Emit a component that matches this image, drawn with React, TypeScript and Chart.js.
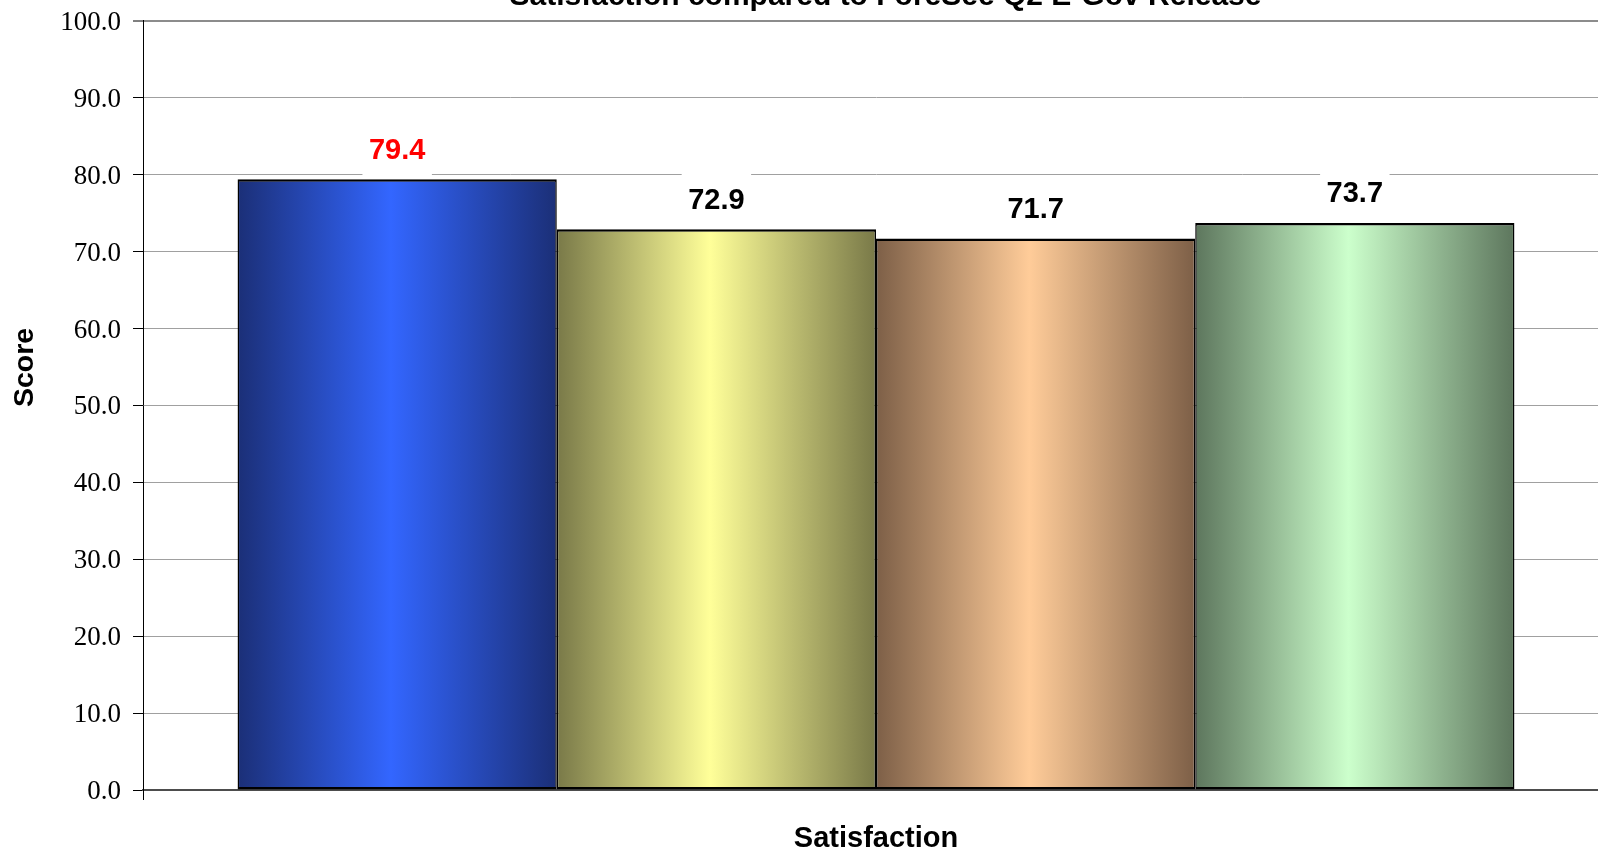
import React, { useEffect, useRef } from "react";
import { Chart, registerables } from "chart.js";

Chart.register(...registerables);

// ---- Data ----
const categories = ["Satisfaction"];
const seriesNames = ["Series 1", "Series 2", "Series 3", "Series 4"];
const seriesValues = [79.4, 72.9, 71.7, 73.7];
const lightColors = ["#3366ff", "#ffff99", "#ffcc99", "#ccffcc"];
const darkColors = ["#1b2f77", "#797948", "#7d5f47", "#5d765d"];
const labelColors = ["#ff0000", "#000000", "#000000", "#000000"];
const yMin = 0;
const yMax = 100;
const yStep = 10;
const chartTitle = "Satisfaction compared to ForeSee Q2 E-Gov Release";
const yAxisTitle = "Score";

const CAT_PCT = 0.871;
const SANS = "Arial, 'Liberation Sans', sans-serif";
const SERIF = "'Times New Roman', 'Liberation Serif', serif";

function barGradient(ctx: any) {
  const i = ctx.datasetIndex ?? 0;
  const chart = ctx.chart;
  const xs = chart.scales && chart.scales.x;
  if (ctx.dataIndex === undefined || !xs || !chart.chartArea) return lightColors[i];
  const n = chart.data.datasets.length;
  const nCat = chart.data.labels.length;
  const center = xs.getPixelForValue(ctx.dataIndex);
  const group = (xs.width / nCat) * CAT_PCT;
  const bw = group / n;
  const left = center - group / 2 + i * bw;
  const g = chart.ctx.createLinearGradient(left, 0, left + bw, 0);
  g.addColorStop(0, darkColors[i]);
  g.addColorStop(0.48, lightColors[i]);
  g.addColorStop(1, darkColors[i]);
  return g;
}

const valueLabelPlugin = {
  id: "valueLabels",
  afterDatasetsDraw(chart: any) {
    const c = chart.ctx;
    c.save();
    c.font = `bold 29px ${SANS}`;
    c.textAlign = "center";
    c.textBaseline = "alphabetic";
    chart.data.datasets.forEach((ds: any, i: number) => {
      const meta = chart.getDatasetMeta(i);
      meta.data.forEach((el: any, j: number) => {
        const text = Number(ds.data[j]).toFixed(1);
        const w = c.measureText(text).width;
        const cy = el.y - 31;
        c.fillStyle = "#ffffff";
        c.fillRect(el.x - w / 2 - 6.5, cy - 28, w + 13, 56);
        c.fillStyle = labelColors[i];
        c.fillText(text, el.x, cy + 10.4);
      });
    });
    c.restore();
  },
};

const textPlugin = {
  id: "extraText",
  afterDraw(chart: any) {
    const c = chart.ctx;
    c.save();
    c.fillStyle = "#000";
    c.font = `bold 30px ${SANS}`;
    c.textAlign = "center";
    c.textBaseline = "alphabetic";
    c.fillText(chartTitle, 885.5, 5);
    c.translate(25.5, 367.5);
    c.rotate(-Math.PI / 2);
    c.font = `bold 28.5px ${SANS}`;
    c.textBaseline = "middle";
    c.fillText(yAxisTitle, 0, 0);
    c.restore();
  },
};

export default function App() {
  const ref = useRef<HTMLCanvasElement | null>(null);

  useEffect(() => {
    if (!ref.current) return;
    const chart = new Chart(ref.current, {
      type: "bar",
      data: {
        labels: categories,
        datasets: seriesValues.map((v, i) => ({
          label: seriesNames[i],
          data: [v],
          backgroundColor: barGradient,
          borderColor: "#000000",
          borderWidth: { top: 2.5, bottom: 2.5, left: 1.5, right: 1.5 },
          borderSkipped: false,
          categoryPercentage: CAT_PCT,
          barPercentage: 1,
        })),
      },
      options: {
        responsive: false,
        animation: false,
        devicePixelRatio: 1,
        layout: { padding: { top: 20.7, right: 0, bottom: 0, left: 0 } },
        plugins: {
          legend: { display: false },
          tooltip: { enabled: false },
          title: { display: false },
        },
        scales: {
          x: {
            grid: {
              display: true,
              drawOnChartArea: false,
              drawTicks: true,
              tickLength: 10,
              tickColor: "#000",
              offset: true,
            },
            border: { display: true, color: "#4d4d4d", width: 2 },
            ticks: {
              color: "#000",
              font: { family: SANS, size: 29, weight: "bold" },
              padding: 21.5,
            },
            afterFit: (scale: any) => {
              scale.height = 62;
              scale.paddingLeft = 0;
              scale.paddingRight = 0;
            },
          },
          y: {
            min: yMin,
            max: yMax,
            ticks: {
              stepSize: yStep,
              color: "#000",
              font: { family: SERIF, size: 27 },
              padding: 12,
              labelOffset: 2,
              callback: (v: any) => Number(v).toFixed(1),
            },
            grid: {
              color: (ctx: any) => (ctx.tick && ctx.tick.value === yMax ? "#8c8c8c" : "#a0a0a0"),
              lineWidth: (ctx: any) => (ctx.tick && ctx.tick.value === yMax ? 2 : 1),
              tickColor: "#000",
              tickLength: 10,
              tickWidth: 1,
            },
            border: { display: true, color: "#000", width: 1 },
            afterFit: (scale: any) => {
              scale.width = 143;
              scale.paddingTop = 0;
              scale.paddingBottom = 0;
            },
          },
        },
      },
      plugins: [valueLabelPlugin, textPlugin],
    } as any);
    return () => chart.destroy();
  }, []);

  return (
    <div
      style={{
        position: "fixed",
        left: 0,
        top: 0,
        width: 1598,
        height: 852,
        overflow: "hidden",
        background: "#ffffff",
      }}
    >
      <canvas ref={ref} width={1609} height={852} style={{ display: "block", width: 1609, height: 852 }} />
    </div>
  );
}
